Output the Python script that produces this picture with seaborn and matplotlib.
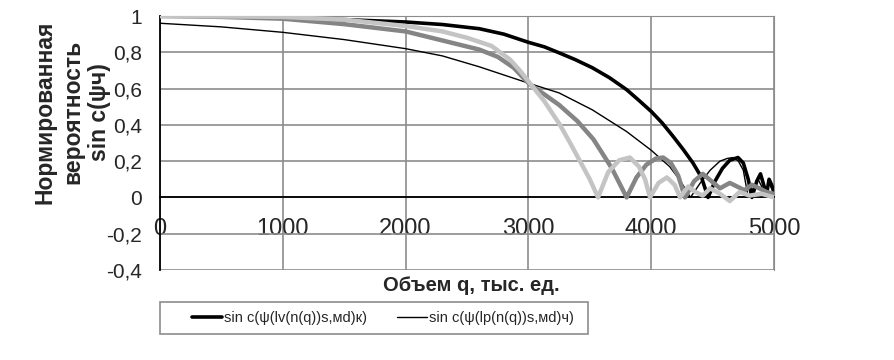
import numpy as np
import pandas as pd
import matplotlib
matplotlib.use("Agg")
import matplotlib.pyplot as plt
import seaborn as sns
from matplotlib.lines import Line2D
from matplotlib.patches import Rectangle

# Данные
q_k = [0, 500, 1000, 1500, 2000, 2300, 2600, 2800, 3000, 3130, 3250, 3380, 3520, 3660,
       3800, 3900, 4000, 4090, 4180, 4260, 4340, 4410, 4463, 4520, 4580, 4640, 4707,
       4750, 4790, 4820, 4860, 4890, 4920, 4940, 4960, 4980, 5000]
v_k = [1.0, 0.998, 0.99, 0.98, 0.967, 0.953, 0.93, 0.9, 0.855, 0.83, 0.797, 0.76, 0.715, 0.66,
       0.594, 0.535, 0.474, 0.41, 0.335, 0.265, 0.19, 0.11, 0.0, 0.09, 0.16, 0.205, 0.22,
       0.19, 0.1, 0.0, 0.09, 0.13, 0.06, 0.02, 0.1, 0.07, 0.03]

q_ch = [0, 500, 1000, 1500, 2000, 2300, 2600, 3000, 3250, 3520, 3800, 4000, 4150, 4235,
        4320, 4400, 4480, 4560, 4620, 4666, 4710, 4750, 4790, 4830, 4870, 4900, 4930,
        4960, 5000]
v_ch = [0.96, 0.94, 0.91, 0.87, 0.82, 0.78, 0.72, 0.63, 0.576, 0.483, 0.363, 0.26, 0.17, 0.094,
        0.0, 0.08, 0.15, 0.2, 0.215, 0.22, 0.2, 0.15, 0.0, 0.05, 0.1, 0.06, 0.01,
        0.08, 0.02]

q_g1 = [0, 500, 1000, 1500, 2000, 2300, 2600, 2750, 2880, 3000, 3250, 3400, 3530, 3680,
        3800, 3880, 3960, 4040, 4097, 4160, 4220, 4275, 4350, 4420, 4490, 4560, 4640,
        4700, 4760, 4820, 4880, 4940, 5000]
v_g1 = [1.0, 0.995, 0.985, 0.955, 0.915, 0.865, 0.815, 0.775, 0.715, 0.63, 0.51, 0.42, 0.32, 0.16,
        0.0, 0.11, 0.18, 0.215, 0.22, 0.19, 0.12, 0.0, 0.09, 0.13, 0.09, 0.05, 0.08,
        0.06, 0.04, 0.07, 0.05, 0.03, 0.02]

q_g2 = [0, 500, 1000, 1500, 2000, 2300, 2500, 2700, 2850, 2930, 3000, 3130, 3257, 3340,
        3420, 3500, 3567, 3650, 3740, 3827, 3900, 3950, 3990, 4060, 4128, 4190, 4235,
        4300, 4360, 4420, 4480, 4560, 4640, 4720, 4800, 4900, 5000]
v_g2 = [1.0, 0.998, 0.995, 0.98, 0.945, 0.915, 0.88, 0.835, 0.76, 0.7, 0.64, 0.53, 0.4, 0.3,
        0.2, 0.1, 0.0, 0.14, 0.205, 0.22, 0.17, 0.1, 0.0, 0.08, 0.11, 0.07, 0.0,
        0.06, 0.03, 0.01, 0.05, 0.02, -0.02, 0.03, 0.01, 0.02, 0.0]

y_ticks = [-0.4, -0.2, 0, 0.2, 0.4, 0.6, 0.8, 1.0]
y_labels = ["-0,4", "-0,2", "0", "0,2", "0,4", "0,6", "0,8", "1"]
x_ticks = [0, 1000, 2000, 3000, 4000, 5000]

label_k = "sin c(ψ(lv(n(q))s,мd)к)"
label_ch = "sin c(ψ(lp(n(q))s,мd)ч)"

sns.set_style("white")
plt.rcParams['font.family'] = ['Liberation Sans', 'DejaVu Sans']

fig = plt.figure(figsize=(8.94, 3.6), dpi=100)
ax = fig.add_axes([160 / 894, 1 - 270 / 360, 614 / 894, 254 / 360])

df_k = pd.DataFrame({"q": q_k, "v": v_k})
df_ch = pd.DataFrame({"q": q_ch, "v": v_ch})
df_g1 = pd.DataFrame({"q": q_g1, "v": v_g1})
df_g2 = pd.DataFrame({"q": q_g2, "v": v_g2})

sns.lineplot(data=df_k, x="q", y="v", ax=ax, color="black", linewidth=2.6, zorder=3)
sns.lineplot(data=df_ch, x="q", y="v", ax=ax, color="black", linewidth=1.0, zorder=3)
sns.lineplot(data=df_g1, x="q", y="v", ax=ax, color="#858585", linewidth=3.2, zorder=4)
sns.lineplot(data=df_g2, x="q", y="v", ax=ax, color="#c4c4c4", linewidth=3.2, zorder=5)

ax.set_xlim(0, 5000)
ax.set_ylim(-0.4, 1.0)
ax.set_yticks(y_ticks)
ax.set_yticklabels(y_labels)
ax.set_xticks(x_ticks)
ax.set_xticklabels([str(t) for t in x_ticks])
ax.grid(True, color="#8c8c8c", linewidth=1.2)
ax.set_axisbelow(True)

ax.spines['bottom'].set_position(('data', 0))
ax.spines['bottom'].set_color("black")
ax.spines['bottom'].set_linewidth(1.3)
ax.spines['left'].set_color("black")
ax.spines['left'].set_linewidth(1.3)
ax.spines['top'].set_color("#8c8c8c")
ax.spines['right'].set_color("#8c8c8c")
ax.tick_params(axis='both', length=5, width=1.2, color="black", direction='out')
ax.tick_params(axis='x', labelsize=17, pad=10)
ax.tick_params(axis='y', labelsize=15, pad=8)
ax.set_xlabel("")
ax.set_ylabel("")

fig.text(0.081, 0.689, "Нормированная\nвероятность\nsin c(ψч)", rotation=90,
         ha='center', va='center', multialignment='center', fontsize=16.5,
         fontweight='bold', linespacing=1.25)
fig.text(0.527, 0.208, "Объем q, тыс. ед.", ha='center', va='center',
         fontsize=14.5, fontweight='bold')

# легенда только для чёрных кривых
fig.patches.append(Rectangle((160 / 894, 1 - 334 / 360), 428 / 894, 32 / 360,
                             transform=fig.transFigure, fill=False,
                             edgecolor="#8c8c8c", linewidth=1.2))
handles = [Line2D([], [], color="black", linewidth=2.6),
           Line2D([], [], color="black", linewidth=1.0)]
fig.legend(handles, [label_k, label_ch], loc='center', bbox_to_anchor=(0.428, 0.117),
           ncol=2, frameon=False, fontsize=10.5, handlelength=2.1, handletextpad=0.1,
           columnspacing=2.05)

fig.savefig("out.png", dpi=100)
